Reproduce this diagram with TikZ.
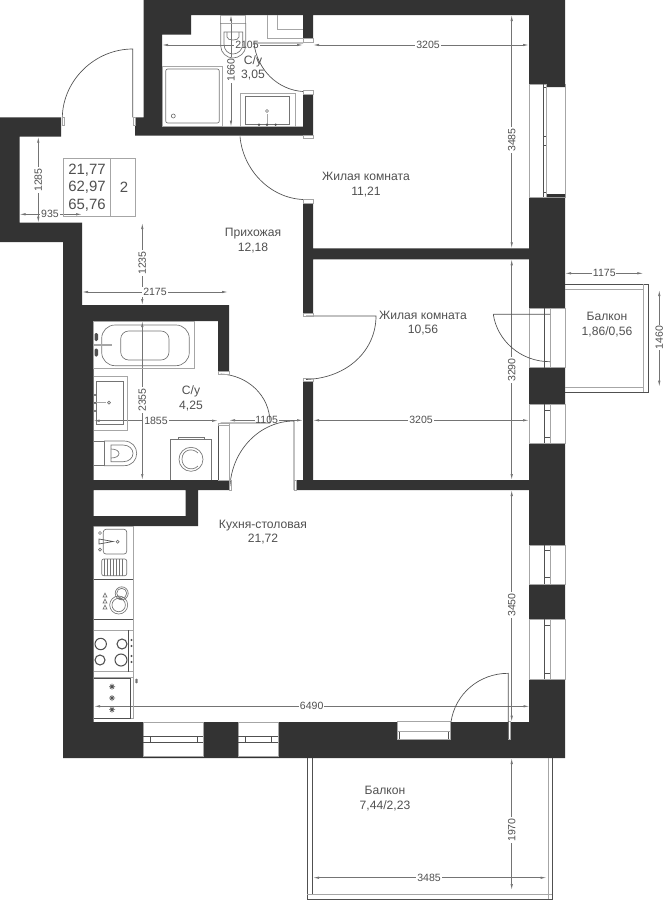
\documentclass[tikz,border=0pt]{standalone}
\usepackage{fontspec}
\setmainfont{Liberation Sans}
\usetikzlibrary{arrows.meta}
\definecolor{wallcol}{HTML}{333333}
\definecolor{inkcol}{HTML}{505050}
\definecolor{dimcol}{HTML}{747474}
\definecolor{framecol}{HTML}{A6A6A6}
\tikzset{
  wallfill/.style={fill=wallcol,draw=none},
  openfill/.style={fill=white,draw=framecol,line width=0.6pt},
  ink/.style={draw=inkcol,line width=0.5pt},
  frameline/.style={draw=framecol,line width=0.7pt},
  fixture/.style={draw=dimcol,line width=0.5pt},
  dimline/.style={draw=dimcol,line width=0.5pt,{Latex[length=4.5pt,width=1.8pt]}-{Latex[length=4.5pt,width=1.8pt]}},
  dimtext/.style={fill=white,text=inkcol,font=\fontsize{7.9}{9}\selectfont,inner sep=0.6pt},
  roomtext/.style={text=inkcol,font=\fontsize{9.1}{10.8}\selectfont,align=center,inner sep=0.75pt},
  infotext/.style={text=inkcol,font=\fontsize{11.2}{13}\selectfont,inner sep=0.75pt}
}
\begin{document}
\begin{tikzpicture}[x=0.75pt,y=0.75pt,yscale=-1,xscale=1]
\useasboundingbox (0,0) rectangle (669,900);

%Shape: Walls
\fill [wallfill] (143.5,0) rectangle (565,15)
  (143.5,15) rectangle (162,127) (143.5,15) rectangle (191,34.7)
  (135,117.3) rectangle (143.5,127) (135,126.7) rectangle (313,135.7)
  (303,15) rectangle (313,38) (303,94) rectangle (313,135.7)
  (303,203) rectangle (313,313) (313,248.3) rectangle (529,259.3)
  (303,381) rectangle (313,480) (296.5,480) rectangle (529,490)
  (0,117.3) rectangle (61,136.7) (0,117.3) rectangle (19.5,242)
  (0,222.7) rectangle (82,242) (63,242) rectangle (82,305)
  (63,305) rectangle (229,321) (63,305) rectangle (93.5,758)
  (218,321) rectangle (229,371.7) (93.5,480) rectangle (229,490)
  (185.7,490) rectangle (198,526) (93.5,516) rectangle (198,526)
  (93.5,722) rectangle (565,758) (529,0) rectangle (565,758) ;

%Shape: Openings east side
\draw [openfill] (529,84) rectangle (565,197) ;
\fill [wallfill] (546.7,84) rectangle (565,87) (546.7,194) rectangle (565,197) ;
\draw [openfill] (529,308) rectangle (565,367.7) ;
\draw [openfill] (529,404) rectangle (565,443.3) ;
\draw [openfill] (529,545) rectangle (565,584) ;
\draw [openfill] (529,619.3) rectangle (565,679) ;
%Shape: Openings south side
\draw [openfill] (143.3,722) rectangle (203.3,756.5) ;
\draw [openfill] (238.3,722) rectangle (278.3,756.5) ;
\draw [openfill] (397.3,721.7) rectangle (450.3,739) ;
\draw [openfill] (508.3,721.7) rectangle (510.7,739) ;
%Shape: Thin partition
\draw [openfill] (218.3,423) rectangle (229,480) ;
\draw [ink] (218.3,423) -- (218.3,480) ;

%Straight Lines glazing
\draw [ink] (543.3,84) -- (543.3,197) (543.3,87.7) -- (546.7,87.7) (543.3,136) -- (546.7,136)
  (543.3,145) -- (546.7,145) (543.3,192) -- (546.7,192) ;
\draw [frameline] (546.7,84) -- (546.7,197) ;
\draw [ink] (544.3,308) -- (544.3,367.7) (544.3,404) -- (544.3,443.3) (544.3,410) -- (550,410) (544.3,437) -- (550,437) ;
\draw [frameline] (550,308) -- (550,367.7) (550,404) -- (550,443.3) ;
\draw [ink] (544.3,545) -- (544.3,584) (544.3,550) -- (550,550) (544.3,577) -- (550,577) ;
\draw [ink] (544.3,619.3) -- (544.3,679) (544.3,625) -- (550,625) (544.3,673.3) -- (550,673.3) ;
\draw [frameline] (550,545) -- (550,584) (550,619.3) -- (550,679) ;
\draw [ink] (143.3,736.7) -- (203.3,736.7) (143.3,742.3) -- (203.3,742.3) (150,736.7) -- (150,742.3) (197.3,736.7) -- (197.3,742.3) ;
\draw [ink] (238.3,736.7) -- (278.3,736.7) (238.3,742.3) -- (278.3,742.3) (245,736.7) -- (245,742.3) (271.7,736.7) -- (271.7,742.3) ;
\draw [ink] (399.5,731) -- (399.5,739) (448,731) -- (448,739) ;
\draw [frameline] (397.3,731) -- (450.3,731) ;

%Shape: Balcony east
\draw [ink] (565,284.3) -- (648.7,284.3) -- (648.7,392.3) -- (565,392.3) ;
\draw [frameline] (565,289) -- (643.7,289) -- (643.7,387.7) -- (565,387.7) ;
\draw [frameline] (643.7,284.3) -- (643.7,289) (643.7,387.7) -- (643.7,392.3) ;
%Shape: Balcony south
\draw [ink] (307.3,758) -- (307.3,899.3) -- (552.3,899.3) -- (552.3,758) ;
\draw [ink] (312.5,758) -- (312.5,894.3) ;
\draw [frameline] (307.3,894.3) -- (552.3,894.3) (548.3,758) -- (548.3,899.3) ;

%Straight Lines dimensions
\draw [dimline] (162,45) -- (303,45) ;
\node (dimBathWidth) [dimtext] at (247,45) {2105};
\draw [dimline] (313,45) -- (529,45) ;
\node (dimRoomWidth) [dimtext] at (428,45) {3205};
\draw [dimline] (231,15) -- (231,126.7) ;
\node (dimBathDepth) [dimtext,rotate=90] at (231,70) {1660};
\draw [dimline] (511.7,15) -- (511.7,248.3) ;
\node (dimRoomDepth) [dimtext,rotate=90] at (511.7,140) {3485};
\draw [dimline] (511.7,259.3) -- (511.7,480) ;
\node (dimBedDepth) [dimtext,rotate=90] at (511.7,370) {3290};
\draw [dimline] (511.7,490) -- (511.7,721.7) ;
\node (dimKitchenDepth) [dimtext,rotate=90] at (511.7,605) {3450};
\draw [dimline] (511.7,758) -- (511.7,890) ;
\node (dimBalconyDepth) [dimtext,rotate=90] at (511.7,830) {1970};
\draw [dimline] (313,877.7) -- (546.5,877.7) ;
\node (dimBalconyWidth) [dimtext] at (429,877.7) {3485};
\draw [dimline] (94,706.3) -- (529.5,706.3) ;
\node (dimKitchenWidth) [dimtext] at (311.7,706.3) {6490};
\draw [dimline] (38.3,136.7) -- (38.3,222.7) ;
\node (dimNookDepth) [dimtext,rotate=90] at (38.3,180) {1285};
\draw [dimline] (19.5,214.3) -- (82,214.3) ;
\node (dimNookWidth) [dimtext] at (50,214.3) {935};
\draw [dimline] (142.3,223) -- (142.3,305) ;
\node (dimHallDepth) [dimtext,rotate=90] at (142.3,263) {1235};
\draw [dimline] (82,292) -- (228,292) ;
\node (dimHallWidth) [dimtext] at (155,292) {2175};
\draw [dimline] (142.3,321) -- (142.3,480) ;
\node (dimWetDepth) [dimtext,rotate=90] at (142.3,400) {2355};
\draw [dimline] (93.5,420.7) -- (218,420.7) ;
\node (dimWetWidth) [dimtext] at (156,420.7) {1855};
\draw [dimline] (229,420.3) -- (303,420.3) ;
\node (dimPassWidth) [dimtext] at (266.7,420.3) {1105};
\draw [dimline] (313,420.3) -- (529,420.3) ;
\node (dimBedWidth) [dimtext] at (421,420.3) {3205};
\draw [dimline] (565,273.3) -- (643.3,273.3) ;
\node (dimLoggiaDepth) [dimtext] at (604.3,273.3) {1175};
\draw [dimline] (659.3,290) -- (659.3,386.7) ;
\node (dimLoggiaWidth) [dimtext,rotate=90] at (659.3,337.7) {1460};

%Shape: Doors
\draw [ink] (132.7,117.3) -- (132.7,49) .. controls (95,49) and (63,80) .. (62.3,117.3) ;
\draw [frameline] (62,117.3) rectangle (64.5,125.5) (133,117.3) rectangle (135.5,125.5) ;
\draw [ink] (303,43) -- (254,43) .. controls (257,70) and (278,90) .. (303,91.5) ;
\draw [frameline] (303,38) rectangle (313,42.5) (303,90.5) rectangle (313,94) ;
\draw [ink] (240,136.5) .. controls (243,170) and (270,198) .. (303,199.5) ;
\draw [frameline] (303,135.7) rectangle (313,138) (303,199.5) rectangle (313,203) ;
\draw [ink] (306,316) -- (376,316) .. controls (376,350) and (348,378) .. (306,379.5) ;
\draw [frameline] (303,313) rectangle (313,316) (303,378) rectangle (313,381) ;
\draw [ink] (220.7,374) .. controls (247,375) and (270,395) .. (270,423) (220.7,423) -- (270,423) ;
\draw [frameline] (218.3,371.7) rectangle (229,374) (218.3,423) rectangle (229,425) ;
\draw [ink] (230,486) .. controls (232,450) and (260,421) .. (294,421) -- (294,490) ;
\draw [frameline] (229,480) rectangle (231.5,490) (294,480) rectangle (296.5,490) ;
\draw [ink] (493.3,314.3) -- (550,314.3) (493.3,314.3) .. controls (497,340) and (520,361.7) .. (550,361.7) ;
\draw [ink] (451,722) .. controls (455,694) and (479,673.3) .. (508.3,673.3) -- (508.3,739) ;

%Shape: Shower
\draw [frameline] (162,66) rectangle (222.3,126.7) ;
\draw [fixture,rounded corners=1.5pt] (165.7,69) rectangle (219.3,123) ;
\draw [fixture] (173.3,116) circle (2) ;
%Shape: Toilet north
\draw [frameline] (220.7,15) rectangle (245.7,23) ;
\draw [fixture] (220.7,23) -- (220.7,46) .. controls (220.7,53) and (227,58) .. (233,58) .. controls (239,58) and (245.7,53) .. (245.7,46) -- (245.7,23) ;
\draw [fixture] (224,32) -- (242.7,32) -- (242.7,44) .. controls (242.7,50) and (238,54) .. (233,54) .. controls (228,54) and (224,50) .. (224,44) -- cycle ;
\draw [fixture] (227,32) -- (227,37) .. controls (227,41) and (239,41) .. (239,37) -- (239,32) ;
%Shape: Niche north
\draw [frameline] (267.3,15) -- (267.3,38) -- (303,38) (277.3,15) -- (277.3,29) -- (303,29) ;
%Shape: Basin north
\draw [frameline] (240.3,126.7) -- (240.3,93) -- (295,93) -- (295,126.7) ;
\draw [fixture] (245,124) -- (245,96.3) -- (289.3,96.3) -- (289.3,124) -- cycle ;
\draw [fixture] (267,111) circle (1.5) ;
\draw [frameline] (267,114) -- (267,125) ;
\fill [inkcol] (259,124.7) circle (1.3) (267,124.7) circle (1.3) (275.7,124.7) circle (1.3) ;

%Shape: Bath
\draw [frameline] (93.5,321) rectangle (194.7,368.3) ;
\draw [fixture,rounded corners=10pt] (101.7,325) rectangle (189.3,365.7) ;
\draw [fixture,rounded corners=6pt] (120.7,331) rectangle (169,360) ;
\draw [frameline,line width=1.3pt] (94,344.7) -- (112,344.7) ;
\fill [inkcol,rounded corners=1pt] (94.5,333) rectangle (98,341) (94.5,348.5) rectangle (98,356.5) ;
%Shape: Basin west
\draw [frameline] (93.5,376) -- (127.3,376) -- (127.3,430) -- (93.5,430) ;
\draw [fixture] (96,381) rectangle (123.3,424.7) ;
\draw [frameline] (94,402.7) -- (106,402.7) ;
\draw [fixture] (109,402.7) circle (1.5) ;
\fill [inkcol] (95,395) circle (1.1) (95,403) circle (1.1) (95,411) circle (1.1) ;
%Shape: Toilet west
\draw [fixture] (93.5,441) -- (104,441) -- (104,465.7) -- (93.5,465.7) ;
\draw [fixture] (104,441) -- (124,441) .. controls (132,441) and (136.7,447) .. (136.7,453.3) .. controls (136.7,460) and (132,465.7) .. (124,465.7) -- (104,465.7) ;
\draw [fixture] (111,445) -- (123,445) .. controls (129,445) and (133,449) .. (133,453.3) .. controls (133,458) and (129,461.7) .. (123,461.7) -- (111,461.7) -- cycle ;
\draw [fixture] (111,449) .. controls (116,449) and (119,451) .. (119,453.5) .. controls (119,456) and (116,458) .. (111,458) ;
%Shape: Washer
\draw [fixture] (170.3,480) -- (170.3,439.3) -- (211.7,439.3) -- (211.7,480) ;
\draw [fixture] (178.3,439.3) -- (178.3,437) -- (204,437) -- (204,439.3) ;
\draw [fixture] (191,459.3) circle (12) ;
\draw [fixture] (198,453) .. controls (192,447) and (182,450) .. (182,459.3) .. controls (182,468) and (192,472) .. (198,466) ;

%Shape: Worktop
\draw [frameline] (93.5,526) -- (133.3,526) -- (133.3,718.3) -- (93.5,718.3) ;
\draw [ink] (93.5,579.3) -- (133.3,579.3) (93.5,619.3) -- (133.3,619.3) ;
\draw [frameline] (93.5,630) -- (133.3,630) (93.5,671.7) -- (133.3,671.7) (93.5,677.7) -- (133.3,677.7) ;
%Shape: Kitchen sink
\draw [fixture,rounded corners=2pt] (103.3,529.3) rectangle (126.7,554) ;
\draw [fixture,rounded corners=1.5pt] (101.7,559) rectangle (126.7,575.7) ;
\draw [fixture] (104.5,559) -- (104.5,575.7) (107.5,559) -- (107.5,575.7) (110.5,559) -- (110.5,575.7) (113.5,559) -- (113.5,575.7) (116.5,559) -- (116.5,575.7) (119.5,559) -- (119.5,575.7) (122.5,559) -- (122.5,575.7) ;
\draw [ink] (99,539) -- (113,541.5) -- (99,544) -- cycle ;
\draw [fixture] (100,533) circle (1.5) (100,549.7) circle (1.5) (117.6,541.7) circle (1.5) ;
%Shape: Round sink
\draw [fixture] (118.7,605) circle (9) (118.7,605) circle (6.7) (121.7,593.3) circle (6.5) (121.7,593.3) circle (5) ;
\draw [fixture] (103,597) -- (105,593) -- (107,597) -- cycle (103,603) -- (105,599) -- (107,603) -- cycle (103,609) -- (105,605) -- (107,609) -- cycle ;
%Shape: Hob
\draw [ink] (128.3,630) -- (128.3,671.7) ;
\draw [ink,line width=0.8pt] (100.7,644) circle (5.7) (122,644) circle (5) (100,660) circle (5) (121,660) circle (6) ;
\fill [inkcol] (131.5,640) circle (1.2) (131.5,646) circle (1.2) (131.5,656) circle (1.2) (131.5,662) circle (1.2) ;
%Shape: Oven
\draw [ink] (93.5,678) -- (130.3,678) -- (130.3,718) -- (93.5,718) ;
\draw [ink] (136.5,680) circle (1) (136.5,682) circle (1) ;
\draw [ink] (109,686.7) -- (115,686.7) (112,683.7) -- (112,689.7) (110,684.7) -- (114,688.7) (114,684.7) -- (110,688.7) ;
\draw [ink] (109,698) -- (115,698) (112,695) -- (112,701) (110,696) -- (114,700) (114,696) -- (110,700) ;
\draw [ink] (109,709.6) -- (115,709.6) (112,706.6) -- (112,712.6) (110,707.6) -- (114,711.6) (114,707.6) -- (110,711.6) ;

%Shape: Summary table
\draw [frameline] (63.5,158.3) rectangle (135,216) (110,158.3) -- (110,216) ;
\node (infoLiving) [infotext] at (87,170) {21,77};
\node (infoTotal) [infotext] at (87,187.6) {62,97};
\node (infoGross) [infotext] at (87,205) {65,76};
\node (infoRooms) [infotext] at (124,187.6) {2};

% Text Node
\node (bathNorth) [roomtext] at (253,68) {С/у\\3,05};
\node (bedNorth) [roomtext] at (366,184.5) {Жилая комната\\11,21};
\node (hall) [roomtext] at (253,240.5) {Прихожая\\12,18};
\node (bedSouth) [roomtext] at (423,323) {Жилая комната\\10,56};
\node (bathWest) [roomtext] at (191,398.5) {С/у\\4,25};
\node (kitchen) [roomtext] at (263,532) {Кухня-столовая\\21,72};
\node (balconyEast) [roomtext] at (607,324.5) {Балкон\\1,86/0,56};
\node (balconySouth) [roomtext] at (385,798.5) {Балкон\\7,44/2,23};

\end{tikzpicture}
\end{document}
